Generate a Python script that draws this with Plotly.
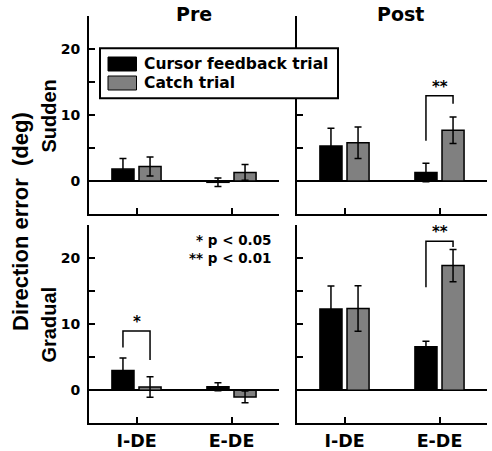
import plotly.graph_objects as go

# ---------------- data ----------------
categories = ["I-DE", "E-DE"]
series_names = ["Cursor feedback trial", "Catch trial"]

pre_sudden_cursor = [1.8, -0.2]
pre_sudden_cursor_err = [1.6, 0.65]
pre_sudden_catch = [2.2, 1.3]
pre_sudden_catch_err = [1.45, 1.2]

post_sudden_cursor = [5.3, 1.3]
post_sudden_cursor_err = [2.7, 1.4]
post_sudden_catch = [5.8, 7.7]
post_sudden_catch_err = [2.4, 2.0]

pre_gradual_cursor = [3.0, 0.55]
pre_gradual_cursor_err = [1.9, 0.6]
pre_gradual_catch = [0.5, -1.0]
pre_gradual_catch_err = [1.55, 0.9]

post_gradual_cursor = [12.3, 6.6]
post_gradual_cursor_err = [3.5, 0.85]
post_gradual_catch = [12.4, 18.9]
post_gradual_catch_err = [3.45, 2.45]

y_tickvals = [0, 5, 10, 15, 20, 25]
y_ticktext = ["0", "", "10", "", "20", ""]

# significance brackets: (row, col, category index, left leg bottom, right leg bottom, top, label)
brackets = [
    (1, 2, 1, 6.1, 11.7, 12.9, "**"),
    (2, 1, 0, 6.5, 4.6, 9.0, "*"),
    (2, 2, 1, 15.6, 21.7, 22.6, "**"),
]

# ---------------- layout geometry ----------------
W, H = 492, 451
FONT_H = "DejaVu Sans"
FONT_V = "Liberation Sans"
BLACK = "#000000"
GRAY = "#808080"
BARGAP = 0.43
BARGROUPGAP = 0.185


def px(x):
    return x / W


def py(y):
    return 1 - y / H


x_domains = {1: [px(89), px(279)], 2: [px(297), px(487)]}
y_domains = {1: [py(214), py(16)], 2: [py(423.3), py(225.3)]}

panels = {
    (1, 1): (pre_sudden_cursor, pre_sudden_cursor_err, pre_sudden_catch, pre_sudden_catch_err),
    (1, 2): (post_sudden_cursor, post_sudden_cursor_err, post_sudden_catch, post_sudden_catch_err),
    (2, 1): (pre_gradual_cursor, pre_gradual_cursor_err, pre_gradual_catch, pre_gradual_catch_err),
    (2, 2): (post_gradual_cursor, post_gradual_cursor_err, post_gradual_catch, post_gradual_catch_err),
}

fig = go.Figure()
layout = dict(
    width=W, height=H, autosize=False,
    margin=dict(l=0, r=0, t=0, b=0),
    paper_bgcolor="white", plot_bgcolor="white",
    barmode="group", bargap=BARGAP, bargroupgap=BARGROUPGAP,
    showlegend=False,
)

idx = 0
axis_ids = {}
for (r, c), (cur, cur_e, cat, cat_e) in panels.items():
    idx += 1
    xa = "x" if idx == 1 else f"x{idx}"
    ya = "y" if idx == 1 else f"y{idx}"
    axis_ids[(r, c)] = (xa, ya)
    for vals, errs, color, name in ((cur, cur_e, BLACK, series_names[0]), (cat, cat_e, GRAY, series_names[1])):
        fig.add_trace(go.Bar(
            x=categories, y=vals, name=name, xaxis=xa, yaxis=ya,
            marker=dict(color=color, line=dict(color=BLACK, width=1.5)),
            error_y=dict(type="data", array=errs, visible=True, color=BLACK, thickness=1.5, width=3.5),
        ))
    layout["xaxis" if idx == 1 else f"xaxis{idx}"] = dict(
        domain=x_domains[c], anchor=ya, range=[-0.5, 1.5],
        showline=True, linecolor=BLACK, linewidth=2, mirror=False,
        ticks="inside", ticklen=6, tickwidth=2, tickcolor=BLACK,
        showticklabels=(r == 2), showgrid=False, zeroline=False,
        tickfont=dict(family=FONT_H, size=17.5, color=BLACK, weight="bold"),
        ticklabelstandoff=1,
        fixedrange=True,
    )
    layout["yaxis" if idx == 1 else f"yaxis{idx}"] = dict(
        domain=y_domains[r], anchor=xa, range=[-5, 25],
        tickvals=y_tickvals, ticktext=y_ticktext,
        showline=True, linecolor=BLACK, linewidth=2, mirror=False,
        ticks="inside", ticklen=6, tickwidth=2, tickcolor=BLACK,
        showticklabels=(c == 1), showgrid=False,
        zeroline=True, zerolinecolor=BLACK, zerolinewidth=1.5,
        tickfont=dict(family=FONT_H, size=14, color=BLACK, weight="bold"),
        ticklabelstandoff=4,
        fixedrange=True,
    )

fig.update_layout(**layout)

shapes = []
annotations = []

# brackets
slot = (1 - BARGAP) / 2
for (r, c, ci, lb, rb, top, label) in brackets:
    xa, ya = axis_ids[(r, c)]
    xl = ci - slot / 2
    xr = ci + slot / 2
    path = f"M {xl},{lb} L {xl},{top} L {xr},{top} L {xr},{rb}"
    shapes.append(dict(type="path", path=path, xref=xa, yref=ya,
                       line=dict(color=BLACK, width=1.5), layer="above"))
    annotations.append(dict(x=ci, y=top, xref=xa, yref=ya, text=label, showarrow=False,
                            xanchor="center", yanchor="bottom", yshift=-2,
                            font=dict(family=FONT_H, size=15, color=BLACK, weight="bold")))

# legend (manual box)
shapes.append(dict(type="rect", xref="paper", yref="paper",
                   x0=px(100), x1=px(338), y0=py(98.3), y1=py(48.3),
                   fillcolor="white", line=dict(color=BLACK, width=2), layer="above"))
for i, (name, color) in enumerate(zip(series_names, [BLACK, GRAY])):
    y0 = 57 + i * 19
    shapes.append(dict(type="rect", xref="paper", yref="paper",
                       x0=px(108), x1=px(136.5), y0=py(y0 + 14), y1=py(y0),
                       fillcolor=color, line=dict(color=BLACK, width=1), layer="above"))
    annotations.append(dict(x=px(142), y=py(y0 + 7), xref="paper", yref="paper",
                            text=name, showarrow=False, xanchor="left", yanchor="middle",
                            font=dict(family=FONT_H, size=15.5, color=BLACK, weight="bold")))


def label(x, y, text, size, family=FONT_H, angle=0):
    annotations.append(dict(x=px(x), y=py(y), xref="paper", yref="paper", text=text,
                            textangle=angle, showarrow=False, xanchor="center", yanchor="middle",
                            font=dict(family=family, size=size, color=BLACK, weight="bold")))


# column titles
label(194, 14, "Pre", 19)
label(400, 14, "Post", 19)

# row labels
label(48.5, 116, "Sudden", 20, FONT_V, -90)
label(48.5, 325, "Gradual", 20, FONT_V, -90)
label(21, 222, "Direction error\u00a0 (deg)", 22, FONT_V, -90)

# p-value note
annotations.append(dict(x=px(274), y=py(249), xref="paper", yref="paper",
                        text="* p < 0.05<br>** p < 0.01", align="right",
                        showarrow=False, xanchor="right", yanchor="middle",
                        font=dict(family=FONT_H, size=13.5, color=BLACK, weight="bold")))

fig.update_layout(shapes=shapes, annotations=annotations)
fig.write_html("out.html", config={"displayModeBar": False},
               post_script="document.body.style.margin='0';document.body.style.overflow='hidden';")
